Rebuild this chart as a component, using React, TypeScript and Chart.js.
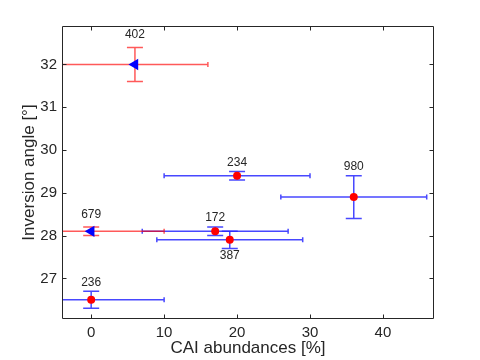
import React, { useEffect, useRef } from "react";
import { Chart, registerables } from "chart.js";
Chart.register(...registerables);

// Blue left-pointing triangles with red error bars
const TRI_LABELS = ["402", "679"];
const TRI_X = [6, 0];
const TRI_Y = [32, 28.1];
const TRI_XERR = [10, 10];
const TRI_YERR = [0.4, 0.1];

// Red circles with blue error bars
const CIR_LABELS = ["234", "980", "172", "387", "236"];
const CIR_X = [20, 36, 17, 19, 0];
const CIR_Y = [29.4, 28.9, 28.1, 27.9, 26.5];
const CIR_XERR = [10, 10, 10, 10, 10];
const CIR_YERR = [0.1, 0.5, 0.1, 0.2, 0.2];
const CIR_LABEL_BELOW = [false, false, false, true, false];

const X_TICKS = [0, 10, 20, 30, 40];
const Y_TICKS = [27, 28, 29, 30, 31, 32];

const FONT = '"Liberation Sans", Arial, Helvetica, sans-serif';
const AXIS_COLOR = "#262626";

const errorBarPlugin = {
  id: "errorBars",
  beforeDatasetsDraw(chart: any) {
    const { ctx, chartArea, scales } = chart;
    const xs = scales.x;
    const ys = scales.y;
    ctx.save();
    ctx.beginPath();
    ctx.rect(chartArea.left, chartArea.top, chartArea.right - chartArea.left, chartArea.bottom - chartArea.top);
    ctx.clip();
    chart.data.datasets.forEach((ds: any) => {
      ctx.strokeStyle = ds.errColor;
      ctx.lineWidth = 1.5;
      ds.data.forEach((p: any, i: number) => {
        const px = xs.getPixelForValue(p.x);
        const py = ys.getPixelForValue(p.y);
        const xl = xs.getPixelForValue(p.x - ds.xErr[i]);
        const xr = xs.getPixelForValue(p.x + ds.xErr[i]);
        const yt = ys.getPixelForValue(p.y + ds.yErr[i]);
        const yb = ys.getPixelForValue(p.y - ds.yErr[i]);
        ctx.beginPath();
        ctx.moveTo(xl, py);
        ctx.lineTo(xr, py);
        ctx.moveTo(xl, py - 2.5);
        ctx.lineTo(xl, py + 2.5);
        ctx.moveTo(xr, py - 2.5);
        ctx.lineTo(xr, py + 2.5);
        ctx.moveTo(px, yt);
        ctx.lineTo(px, yb);
        ctx.moveTo(px - 8, yt);
        ctx.lineTo(px + 8, yt);
        ctx.moveTo(px - 8, yb);
        ctx.lineTo(px + 8, yb);
        ctx.stroke();
      });
    });
    ctx.restore();
  },
  afterDatasetsDraw(chart: any) {
    const { ctx, scales } = chart;
    const xs = scales.x;
    const ys = scales.y;
    ctx.save();
    ctx.fillStyle = AXIS_COLOR;
    ctx.font = `12px ${FONT}`;
    ctx.textAlign = "center";
    ctx.textBaseline = "middle";
    chart.data.datasets.forEach((ds: any) => {
      ds.data.forEach((p: any, i: number) => {
        const px = xs.getPixelForValue(p.x);
        const below = ds.labelBelow ? ds.labelBelow[i] : false;
        if (below) {
          const yb = ys.getPixelForValue(p.y - ds.yErr[i]);
          ctx.fillText(ds.pointLabels[i], px, yb + 7);
        } else {
          const yt = ys.getPixelForValue(p.y + ds.yErr[i]);
          ctx.fillText(ds.pointLabels[i], px, yt - ds.labelGap);
        }
      });
    });
    ctx.restore();
  },
};

const framePlugin = {
  id: "frame",
  afterDraw(chart: any) {
    const { ctx, chartArea, scales } = chart;
    const l = Math.round(chartArea.left) + 0.5;
    const r = Math.round(chartArea.right) - 0.5;
    const t = Math.round(chartArea.top) + 0.5;
    const b = Math.round(chartArea.bottom) - 0.5;
    ctx.save();
    ctx.strokeStyle = AXIS_COLOR;
    ctx.lineWidth = 1;
    ctx.beginPath();
    ctx.rect(l, t, r - l, b - t);
    const len = 4;
    scales.x.ticks.forEach((tk: any) => {
      const x = Math.round(scales.x.getPixelForValue(tk.value)) + 0.5;
      ctx.moveTo(x, b);
      ctx.lineTo(x, b - len);
      ctx.moveTo(x, t);
      ctx.lineTo(x, t + len);
    });
    scales.y.ticks.forEach((tk: any) => {
      const y = Math.round(scales.y.getPixelForValue(tk.value)) + 0.5;
      ctx.moveTo(l, y);
      ctx.lineTo(l + len, y);
      ctx.moveTo(r, y);
      ctx.lineTo(r - len, y);
    });
    ctx.stroke();
    ctx.restore();
  },
};

export default function App() {
  const ref = useRef<HTMLCanvasElement>(null);
  useEffect(() => {
    const chart = new Chart(ref.current as HTMLCanvasElement, {
      type: "scatter",
      data: {
        datasets: [
          {
            label: "circles",
            data: CIR_X.map((x, i) => ({ x, y: CIR_Y[i] })),
            pointStyle: "circle",
            pointRadius: 4,
            pointBorderWidth: 0,
            backgroundColor: "#ff0000",
            borderColor: "#ff0000",
            errColor: "rgba(40,40,255,0.85)",
            xErr: CIR_XERR,
            yErr: CIR_YERR,
            pointLabels: CIR_LABELS,
            labelBelow: CIR_LABEL_BELOW,
            labelGap: 9,
          } as any,
          {
            label: "triangles",
            data: TRI_X.map((x, i) => ({ x, y: TRI_Y[i] })),
            pointStyle: "triangle",
            rotation: -90,
            pointRadius: 6.5,
            pointBorderWidth: 0,
            backgroundColor: "#0000ff",
            borderColor: "#0000ff",
            errColor: "rgba(255,0,0,0.65)",
            xErr: TRI_XERR,
            yErr: TRI_YERR,
            pointLabels: TRI_LABELS,
            labelGap: 12.5,
          } as any,
        ],
      },
      options: {
        animation: false,
        responsive: false,
        maintainAspectRatio: false,
        layout: { padding: { top: 26, right: 46, left: 0, bottom: 0 } },
        plugins: { legend: { display: false }, tooltip: { enabled: false } },
        scales: {
          x: {
            type: "linear",
            min: -4,
            max: 47,
            afterBuildTicks: (s: any) => {
              s.ticks = X_TICKS.map((v) => ({ value: v }));
            },
            afterFit: (s: any) => {
              s.height = 41;
            },
            grid: { display: false, drawTicks: false },
            border: { display: false },
            ticks: { padding: 5, color: AXIS_COLOR, font: { family: FONT, size: 15 } },
            title: {
              display: true,
              text: "CAI abundances [%]",
              color: AXIS_COLOR,
              font: { family: FONT, size: 17 },
              padding: { top: 0, bottom: 1 },
            },
          },
          y: {
            type: "linear",
            min: 26.05,
            max: 32.9,
            afterBuildTicks: (s: any) => {
              s.ticks = Y_TICKS.map((v) => ({ value: v }));
            },
            afterFit: (s: any) => {
              s.width = 62;
            },
            grid: { display: false, drawTicks: false },
            border: { display: false },
            ticks: { padding: 5, color: AXIS_COLOR, font: { family: FONT, size: 15 } },
            title: {
              display: true,
              text: "Inversion angle [°]",
              color: AXIS_COLOR,
              font: { family: FONT, size: 17 },
              padding: { top: 19, bottom: 0 },
            },
          },
        },
      } as any,
      plugins: [errorBarPlugin, framePlugin],
    });
    return () => chart.destroy();
  }, []);
  return (
    <div style={{ position: "fixed", left: 0, top: 0, width: 480, height: 360 }}>
      <canvas ref={ref} width={480} height={360} style={{ width: 480, height: 360 }} />
    </div>
  );
}
